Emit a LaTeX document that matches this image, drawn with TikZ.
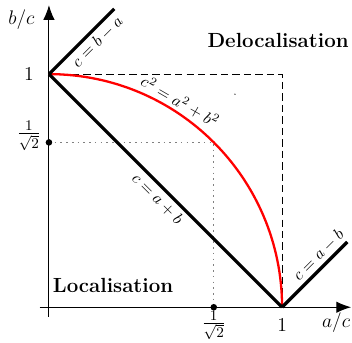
\documentclass[tikz,border=0pt]{standalone}
\usepackage{amsmath}
\usepackage{amssymb}
\usetikzlibrary{arrows.meta,positioning,calc}

\begin{document}
\begin{tikzpicture}[x=5cm, y=5cm,
    axis/.style={-{Latex[length=9pt,width=7pt]}, line width=0.6pt},
    bound/.style={line width=2pt, black},
    circ/.style={line width=1.4pt, red},
    guide/.style={dash pattern=on 4.5pt off 2.5pt, line width=0.6pt},
    guidedot/.style={gray, dash pattern=on 1pt off 2.5pt, line width=0.8pt},
    lab/.style={font=\fontsize{13}{15}\selectfont},
    region/.style={font=\fontsize{12.5}{15}\selectfont\bfseries},
    eq/.style={font=\normalsize, sloped, inner sep=2pt},
]
\useasboundingbox (-0.21,-0.15) rectangle (1.30,1.318);
\coordinate (o) at (0,0);
\coordinate (xa) at (1,0);
\coordinate (yb) at (0,1);
\coordinate (c11) at (1,1);
\coordinate (xs) at (-0.04,0);
\coordinate (xe) at (1.296,0);
\coordinate (ys) at (0,-0.04);
\coordinate (ye) at (0,1.296);
\coordinate (pb) at (0.28,1.28);
\coordinate (pa) at (1.28,0.28);
\coordinate (h) at (0.7071,0.7071);
\coordinate (hx) at (0.7071,0);
\coordinate (hy) at (0,0.7071);
% axes and guides
\draw[axis] (xs) -- (xe);
\draw[axis] (ys) -- (ye);
\draw[guide] (yb) -- (c11) -- (xa);
\draw[guidedot] (hy) -- (h) -- (hx);
% bounds
\draw[circ] (yb) arc[start angle=90, end angle=0, radius=1];
\draw[bound] (yb) -- (xa) node[eq, below, pos=0.5] (lplus) {$c=a+b$};
\draw[bound] (yb) -- (pb) node[eq, below, pos=0.62] (lba) {$c=b-a$};
\draw[bound] (xa) -- (pa) node[eq, above, pos=0.68] (lab) {$c=a-b$};
\node[eq, rotate=-30] (lcirc) at (57.5:1.047) {$c^2=a^2+b^2$};
\fill (hx) circle[radius=2pt];
\fill (hy) circle[radius=2pt];
\fill (0.798,0.914) circle[radius=0.4pt];
% labels
\node[lab] (ylab) at (-0.118,1.232) {$b/c$};
\node[lab] (xlab) at (1.232,-0.064) {$a/c$};
\node[lab] (yone) at (-0.086,1) {$1$};
\node[lab] (xone) at (1,-0.077) {$1$};
\node[lab] (yhalf) at (-0.086,0.735) {$\frac{1}{\sqrt{2}}$};
\node[lab] (xhalf) at (0.707,-0.078) {$\frac{1}{\sqrt{2}}$};
\node[region] (deloc) at (0.983,1.146) {Delocalisation};
\node[region] (loc) at (0.275,0.094) {Localisation};
\end{tikzpicture}
\end{document}
